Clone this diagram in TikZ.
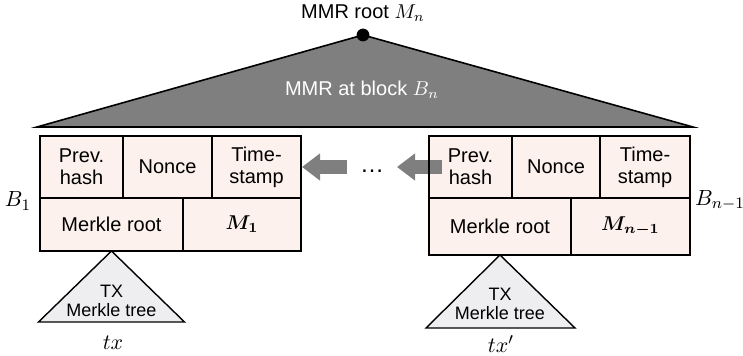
\documentclass[tikz,border=0pt]{standalone}
\usepackage[no-math]{fontspec}
\setmainfont{Liberation Sans}
\usepackage{amsmath}
\usepackage{bm}
\usepackage{tikz}
\usetikzlibrary{positioning}
\usetikzlibrary{arrows.meta}

\definecolor{cellfill}{HTML}{FCF1EC}
\definecolor{treefill}{HTML}{EEEEF1}
\definecolor{mmrgray}{HTML}{7F7F7F}
\def\pxu{0.5pt}

\begin{document}
\begin{tikzpicture}[
    x=0.5pt, y=-0.5pt,
    node distance=0pt and 0pt,
    cell/.style={draw,fill=cellfill,line width=0.7pt,inner sep=0pt,outer sep=0pt,align=center,
      font=\fontsize{10}{11}\selectfont},
    toprow/.style={cell,minimum height=62*\pxu},
    mmr/.style={draw,fill=mmrgray,line width=0.8pt,line join=miter},
    txtree/.style={draw,fill=treefill,line width=0.7pt},
    treetext/.style={align=center,inner sep=0pt,font=\fontsize{9}{9.5}\selectfont},
    mathlabel/.style={inner sep=0pt,font=\fontsize{11}{11}\selectfont},
    bigarrow/.style={draw=mmrgray,line width=7pt,-{Triangle[width=13pt,length=9pt]}}
    ]
    \useasboundingbox (0,0) rectangle (743,356);

    % MMR over all blocks
    \coordinate (root) at (363,35);
    \draw[mmr] (37,127) -- (root) -- (693,127) -- cycle;
    \fill (root) circle (3.2pt);
    \node[inner sep=0pt] (rootlabel) at (363,13) {MMR root $M_n$};
    \node[white,inner sep=0pt] (mmrlabel) at (362,90) {MMR at block $B_n$};

    % block B_1
    \node[toprow,minimum width=83*\pxu,anchor=north west] (prev1) at (40,136) {Prev.\\hash};
    \node[toprow,minimum width=89*\pxu,right=of prev1] (nonce1) {Nonce};
    \node[toprow,minimum width=89*\pxu,right=of nonce1] (time1) {Time-\\stamp};
    \node[cell,minimum width=143*\pxu,minimum height=53*\pxu,anchor=north west] (mr1) at (prev1.south west) {Merkle root};
    \node[cell,minimum width=118*\pxu,minimum height=53*\pxu,right=of mr1] (m1) {$\bm{M_1}$};
    \node[mathlabel] (b1) at (18,201) {$B_1$};

    % block B_{n-1}
    \node[toprow,minimum width=83*\pxu,anchor=north west] (prev2) at (429,136) {Prev.\\hash};
    \node[toprow,minimum width=88*\pxu,right=of prev2] (nonce2) {Nonce};
    \node[toprow,minimum width=90*\pxu,right=of nonce2] (time2) {Time-\\stamp};
    \node[cell,minimum width=142*\pxu,minimum height=57*\pxu,anchor=north west] (mr2) at (prev2.south west) {Merkle root};
    \node[cell,minimum width=119*\pxu,minimum height=57*\pxu,right=of mr2] (m2) {$\bm{M_{n-1}}$};
    \node[mathlabel] (b2) at (720,200) {$B_{n-1}$};

    % chain between blocks
    \node[inner sep=0pt,font=\fontsize{12}{12}\selectfont] (dots) at (372,171) {…};
    \draw[bigarrow] ([xshift=23pt]time1.east) -- ([xshift=0.5pt]time1.east);
    \draw[bigarrow] ([xshift=6.5pt]prev2.west) -- ([xshift=-16pt]prev2.west);
    \draw[line width=0.7pt] (prev2.north west) -- (prev2.south west);

    % transaction trees
    \draw[txtree] (mr1.south) -- ++(-73,71) -- ++(146,0) -- cycle;
    \node[treetext] (tree1) at ([yshift=-25pt]mr1.south) {TX\\Merkle tree};
    \node[mathlabel] (tx1) at (113,343) {$tx$};
    \draw[txtree] (mr2.south) -- ++(-74,73) -- ++(149,0) -- cycle;
    \node[treetext] (tree2) at ([yshift=-24.5pt]mr2.south) {TX\\Merkle tree};
    \node[mathlabel] (tx2) at (501,344) {$tx'$};

\end{tikzpicture}
\end{document}
